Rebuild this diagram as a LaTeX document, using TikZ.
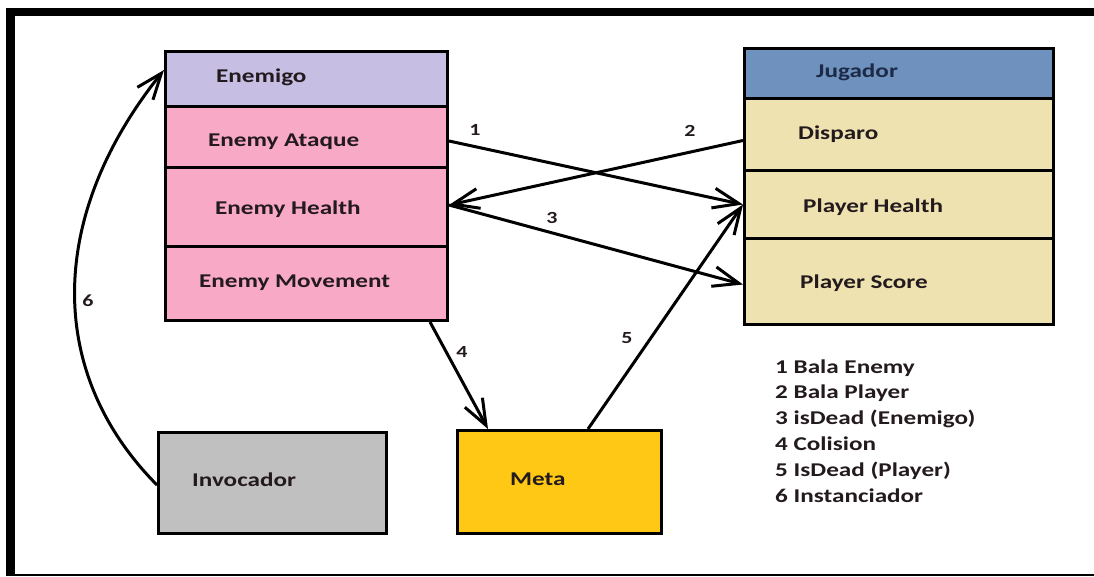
\documentclass[tikz,border=0pt]{standalone}
\usepackage{fontspec}
\setmainfont{Carlito}[FakeStretch=1.29]
\usetikzlibrary{arrows.meta}

\definecolor{hdrenemy}{HTML}{C6BFE3}
\definecolor{enemyfill}{HTML}{F8A9C5}
\definecolor{hdrplayer}{HTML}{6F91BD}
\definecolor{playerfill}{HTML}{EEE2B1}
\definecolor{invfill}{HTML}{C0C0C0}
\definecolor{metafill}{HTML}{FFC814}
\definecolor{txtdark}{HTML}{231A1E}
\definecolor{txtnavy}{HTML}{1C2A48}

\tikzset{
  compart/.style={draw=black, line width=3pt, rectangle, inner sep=0pt,
                  anchor=north west},
  boxtext/.style={anchor=base west, inner sep=0pt, text=txtdark,
                  font=\fontsize{19.5}{23}\selectfont\bfseries},
  numlabel/.style={anchor=base, inner sep=0pt, text=txtdark,
                   font=\fontsize{17}{20}\selectfont\bfseries},
  legend/.style={anchor=base west, inner sep=0pt, text=txtdark,
                 font=\fontsize{19.5}{23}\selectfont\bfseries},
  link/.style={line width=3pt, -{Straight Barb[length=26pt, width=20pt, line width=3pt]}}
}

\begin{document}
\begin{tikzpicture}[x=1pt, y=-1pt]
  \useasboundingbox (0,0) rectangle (1094,576);
  \fill[white] (0,0) rectangle (1094,576);

  % frame
  \fill[black] (6,8) rectangle (1094,16);
  \fill[black] (6,8) rectangle (15,576);
  \fill[black] (6,573.5) rectangle (1094,576);

  % Enemigo class
  \node[compart, fill=hdrenemy,  minimum width=282pt, minimum height=55pt] (enemigo) at (164,50) {};
  \node[compart, fill=enemyfill, minimum width=282pt, minimum height=61pt] (ataque)  at (164,105) {};
  \node[compart, fill=enemyfill, minimum width=282pt, minimum height=79pt] (ehealth) at (164,166) {};
  \node[compart, fill=enemyfill, minimum width=282pt, minimum height=74pt] (emove)   at (164,245) {};

  % Jugador class
  \node[compart, fill=hdrplayer,  minimum width=309pt, minimum height=50pt] (jugador) at (743,47) {};
  \node[compart, fill=playerfill, minimum width=309pt, minimum height=72pt] (disparo) at (743,97) {};
  \node[compart, fill=playerfill, minimum width=309pt, minimum height=68pt] (phealth) at (743,169) {};
  \node[compart, fill=playerfill, minimum width=309pt, minimum height=86pt] (score)   at (743,237) {};

  % other boxes
  \node[compart, fill=invfill,  minimum width=228pt, minimum height=101pt] (invocador) at (157,431) {};
  \node[compart, fill=metafill, minimum width=204pt, minimum height=103pt] (meta)      at (456,429) {};

  % box texts
  \node[boxtext] (t-enemigo) at (216,82)  {Enemigo};
  \node[boxtext] (t-ataque)  at (208,146) {Enemy Ataque};
  \node[boxtext] (t-ehealth) at (215,214) {Enemy Health};
  \node[boxtext] (t-emove)   at (199,287) {Enemy Movement};
  \node[boxtext, text=txtnavy] (t-jugador) at (816,77) {Jugador};
  \node[boxtext] (t-disparo) at (798,139) {Disparo};
  \node[boxtext] (t-phealth) at (803,212) {Player Health};
  \node[boxtext] (t-score)   at (800,288) {Player Score};
  \node[boxtext] (t-inv)     at (192,486) {Invocador};
  \node[boxtext] (t-meta)    at (510,485) {Meta};

  % connectors
  \draw[link] ([yshift=-4pt]ataque.east) -- (phealth.west);
  \draw[link] ([yshift=-6pt]disparo.west) -- ([yshift=2pt]ehealth.east);
  \draw[link] ([yshift=2pt]ehealth.east) -- ([yshift=-3pt]score.west);
  \draw[link] ([xshift=-19pt]emove.south east) -- ([xshift=32pt]meta.north west);
  \draw[link] ([xshift=132pt]meta.north west) -- (phealth.west);
  \draw[link] ([yshift=-54pt]invocador.north west)
      .. controls (45,372) and (48,215) .. ([yshift=-20pt]enemigo.north west);

  % connector numbers
  \node[numlabel] (n1) at (475,135) {1};
  \node[numlabel] (n2) at (690,136) {2};
  \node[numlabel] (n3) at (552,223) {3};
  \node[numlabel] (n4) at (462,357) {4};
  \node[numlabel] (n5) at (627,343) {5};
  \node[numlabel] (n6) at (88,306)  {6};

  % legend
  \node[legend] (leg1) at (775,373.0) {1 Bala Enemy};
  \node[legend] (leg2) at (775,398.8) {2 Bala Player};
  \node[legend] (leg3) at (775,424.6) {3 isDead (Enemigo)};
  \node[legend] (leg4) at (775,450.4) {4 Colision};
  \node[legend] (leg5) at (775,476.2) {5 IsDead (Player)};
  \node[legend] (leg6) at (775,502.0) {6 Instanciador};
\end{tikzpicture}
\end{document}
